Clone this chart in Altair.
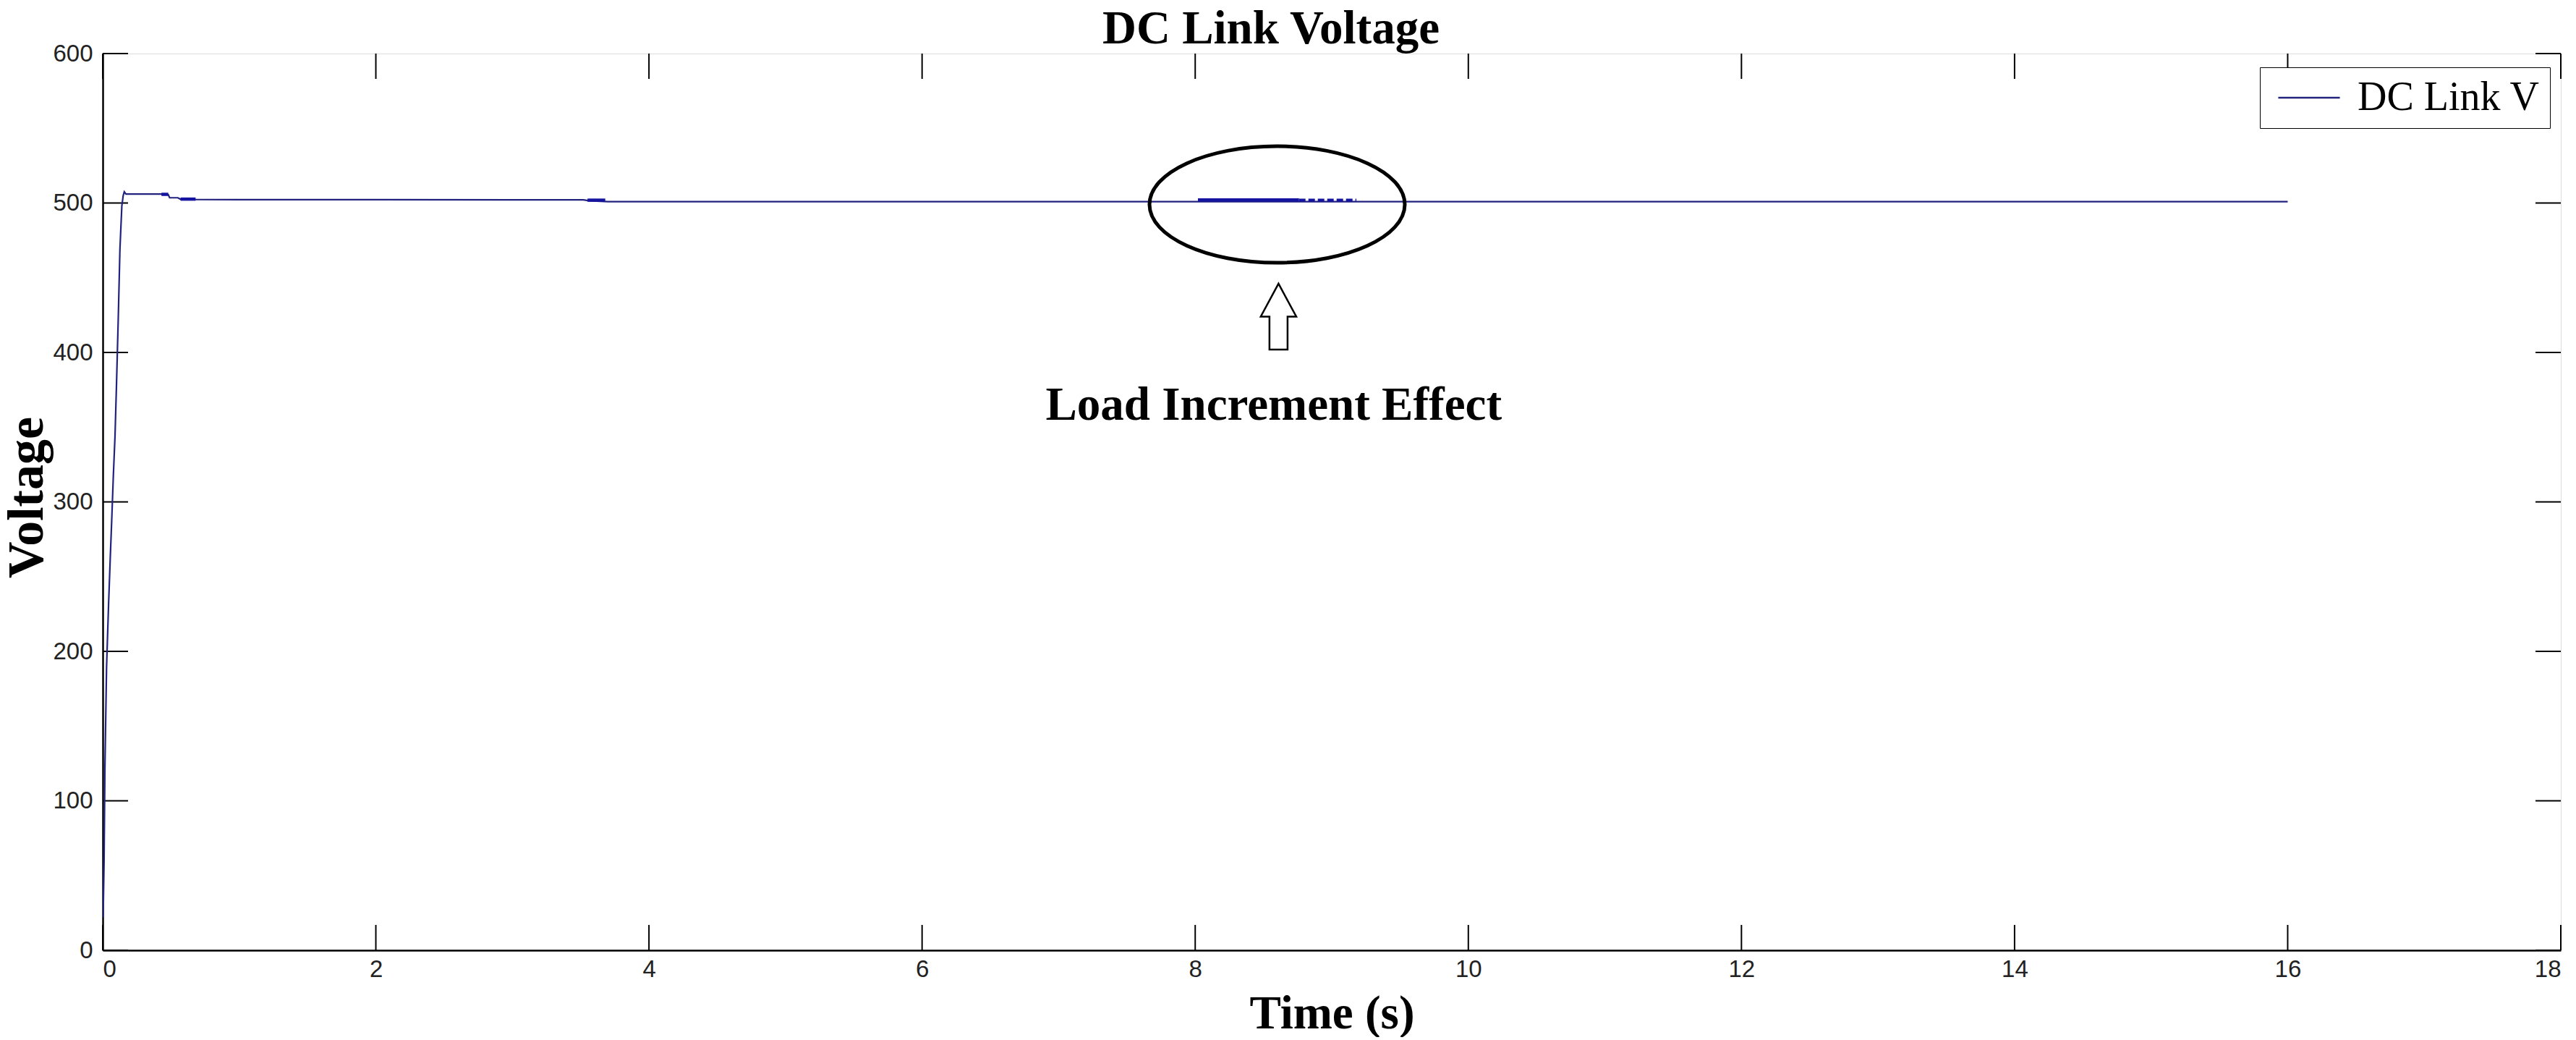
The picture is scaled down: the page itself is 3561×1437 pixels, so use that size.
import altair as alt
import pandas as pd

# ---- data ----
time_s = [0.003, 0.010, 0.016, 0.028, 0.043, 0.055, 0.066, 0.078, 0.090, 0.101,
          0.113, 0.126, 0.140, 0.150, 0.158, 0.17, 0.30, 0.43, 0.48, 0.49,
          0.55, 0.57, 0.68, 1.0, 2.0, 3.0, 3.52, 3.56, 3.70, 4.5,
          6.0, 7.5, 8.0, 9.2, 10.0, 12.0, 14.0, 16.0]
voltage = [22, 60, 121, 189, 232, 262, 288, 318, 344, 379,
           420, 469, 498, 505, 507.5, 506, 506, 506, 505.5, 503.5,
           503.5, 502.5, 502.3, 502.2, 502.2, 502.1, 502.1, 501.5, 500.9, 500.9,
           500.9, 500.9, 500.9, 500.9, 500.9, 500.9, 500.9, 500.9]
series_name = "DC Link V"

# dense ripple stretches that show as a thicker trace
ripple_seg = ["a", "a", "b", "b", "c", "c", "d", "d"]
ripple_t = [0.43, 0.48, 0.57, 0.68, 3.55, 3.68, 8.02, 8.76]
ripple_v = [505.8, 505.8, 502.6, 502.6, 501.9, 501.9, 502.0, 502.0]
noise_t = [8.76, 9.18]
noise_v = [501.9, 501.9]

x_ticks = [0, 2, 4, 6, 8, 10, 12, 14, 16, 18]
y_ticks = [0, 100, 200, 300, 400, 500, 600]

chart_title = "DC Link Voltage"
x_title = "Time (s)"
y_title = "Voltage"
annotation_text = "Load Increment Effect"

# annotation anchor (data coordinates)
ellipse_at = {"t": [8.60], "v": [499.0]}
arrow_at = {"t": [8.61], "v": [424.0]}
label_at = {"t": [8.575], "v": [355.0]}

# ---- styling ----
W, H = 3398, 1239
LINE_COLOR = "#22227f"
RIPPLE_COLOR = "#1414a0"
SERIF = "Liberation Serif"
SANS = "Liberation Sans Narrow, Arial Narrow, Liberation Sans, Arial"
TICK_LEN = 35

df = pd.DataFrame({"t": time_s, "v": voltage, "series": series_name})
rip = pd.DataFrame({"t": ripple_t, "v": ripple_v, "seg": ripple_seg})
noi = pd.DataFrame({"t": noise_t, "v": noise_v})

xscale = alt.Scale(domain=[0, 18], nice=False, zero=False)
yscale = alt.Scale(domain=[0, 600], nice=False, zero=False)

x_axis = alt.Axis(values=x_ticks, format="d", ticks=False, grid=False,
                  labelFont=SANS, labelFontSize=33, labelColor="#222222",
                  labelPadding=10, domainColor="black", domainWidth=2.5,
                  title=x_title, titleFont=SERIF, titleFontSize=65,
                  titleFontWeight="bold", titleColor="black", titleX=W / 2,
                  titleY=107, titleAlign="center", titleBaseline="alphabetic")
y_axis = alt.Axis(values=y_ticks, format="d", ticks=False, grid=False,
                  labelFont=SANS, labelFontSize=33, labelColor="#222222",
                  labelPadding=14, domainColor="black", domainWidth=2.5,
                  title=y_title, titleFont=SERIF, titleFontSize=70,
                  titleFontWeight="bold", titleColor="black", titleX=-105,
                  titleY=613, titleAngle=270, titleAlign="center",
                  titleBaseline="middle")

line = alt.Chart(df).mark_line(strokeWidth=2.2, clip=True).encode(
    x=alt.X("t:Q", scale=xscale, axis=x_axis),
    y=alt.Y("v:Q", scale=yscale, axis=y_axis),
    color=alt.Color("series:N", scale=alt.Scale(range=[LINE_COLOR]),
                    legend=alt.Legend(title=None, orient="none", legendX=2982,
                                      legendY=19, strokeColor="black",
                                      fillColor="white", padding=14,
                                      symbolType="M -1.6 0 L 1.6 0",
                                      symbolSize=2830, symbolOffset=26,
                                      symbolStrokeWidth=2.5,
                                      labelFont=SERIF, labelFontSize=56,
                                      labelColor="black", labelOffset=39,
                                      labelLimit=600)),
)

ripple = alt.Chart(rip).mark_line(strokeWidth=4.5, color=RIPPLE_COLOR).encode(
    x=alt.X("t:Q", scale=xscale), y=alt.Y("v:Q", scale=yscale),
    detail="seg:N")
noise = alt.Chart(noi).mark_line(strokeWidth=4, color=RIPPLE_COLOR,
                                 strokeDash=[9, 4]).encode(
    x=alt.X("t:Q", scale=xscale), y=alt.Y("v:Q", scale=yscale))

xt = pd.DataFrame({"t": x_ticks})
yt = pd.DataFrame({"v": y_ticks})

tick_bottom = alt.Chart(xt).mark_rule(color="black", strokeWidth=2).encode(
    x=alt.X("t:Q", scale=xscale), y=alt.value(H), y2=alt.value(H - TICK_LEN))
tick_top = alt.Chart(xt).mark_rule(color="black", strokeWidth=2).encode(
    x=alt.X("t:Q", scale=xscale), y=alt.value(0), y2=alt.value(TICK_LEN))
tick_left = alt.Chart(yt).mark_rule(color="black", strokeWidth=2).encode(
    y=alt.Y("v:Q", scale=yscale), x=alt.value(0), x2=alt.value(TICK_LEN))
tick_right = alt.Chart(yt).mark_rule(color="black", strokeWidth=2).encode(
    y=alt.Y("v:Q", scale=yscale), x=alt.value(W), x2=alt.value(W - TICK_LEN))

ELLIPSE = "M -1 0 A 1 0.456 0 1 1 1 0 A 1 0.456 0 1 1 -1 0 Z"
ARROW = "M 0 -1 L 0.54 0 L 0.275 0 L 0.275 1 L -0.275 1 L -0.275 0 L -0.54 0 Z"

ellipse = alt.Chart(pd.DataFrame(ellipse_at)).mark_point(
    shape=ELLIPSE, filled=False, stroke="black", strokeWidth=5, opacity=1
).encode(x=alt.X("t:Q", scale=xscale), y=alt.Y("v:Q", scale=yscale),
         size=alt.value(124609))

arrow = alt.Chart(pd.DataFrame(arrow_at)).mark_point(
    shape=ARROW, filled=True, fill="white", stroke="black", strokeWidth=2.5,
    opacity=1, fillOpacity=1
).encode(x=alt.X("t:Q", scale=xscale), y=alt.Y("v:Q", scale=yscale),
         size=alt.value(8281))

label = alt.Chart(pd.DataFrame(label_at)).mark_text(
    text=annotation_text, font=SERIF, fontSize=65, fontWeight="bold",
    color="black", align="center", baseline="alphabetic"
).encode(x=alt.X("t:Q", scale=xscale), y=alt.Y("v:Q", scale=yscale))

chart = alt.layer(
    tick_bottom, tick_top, tick_left, tick_right, line, ripple, noise,
    ellipse, arrow, label
).properties(
    width=W, height=H,
    title=alt.TitleParams(chart_title, font=SERIF, fontSize=65,
                          fontWeight="bold", color="black", anchor="middle",
                          frame="group", dx=-84, dy=20, offset=4),
    autosize=alt.AutoSizeParams(type="none"),
    padding={"left": 134, "top": 66, "right": 10, "bottom": 120},
).configure_view(stroke="black", strokeWidth=2.5).configure(background="white")

chart.save("out.html", embed_options={"renderer": "svg", "actions": False})
